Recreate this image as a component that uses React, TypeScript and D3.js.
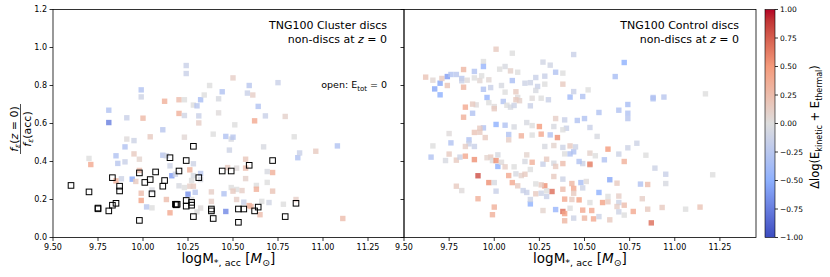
import React from 'react';
import * as d3 from 'd3';

// cluster discs, filled: [logM, ratio, dlogE]
const clusterFilled: [number, number, number][] = [
  [10.24, 0.905, -0.15], [10.24, 0.863, -0.15], [10.37, 0.80, 0.0], [10.5, 0.84, 0.12],
  [10.44, 0.767, -0.3], [10.59, 0.80, -0.25], [10.75, 0.815, -0.15], [9.99, 0.777, -0.3],
  [9.99, 0.74, -0.12], [9.81, 0.67, -0.3], [9.81, 0.605, -0.75], [9.91, 0.63, -0.15],
  [10.0, 0.628, 0.28], [10.12, 0.717, 0.35], [10.2, 0.725, 0.25], [10.2, 0.653, 0.35],
  [10.23, 0.725, 0.0], [10.23, 0.642, -0.1], [10.28, 0.697, 0.0], [10.3, 0.693, -0.25],
  [10.32, 0.725, -0.35], [10.34, 0.75, 0.0], [10.31, 0.64, -0.15], [10.31, 0.603, 0.12],
  [10.42, 0.73, -0.05], [10.42, 0.656, 0.02], [10.39, 0.544, 0.0], [10.58, 0.76, -0.15],
  [10.61, 0.75, 0.12], [10.64, 0.69, -0.3], [10.68, 0.64, -0.15], [10.62, 0.614, 0.4],
  [10.79, 0.637, 0.1], [10.51, 0.593, 0.0], [10.46, 0.532, -0.3], [10.49, 0.518, -0.05],
  [10.5, 0.528, -0.25], [10.11, 0.567, -0.25], [10.04, 0.53, 0.15], [10.23, 0.528, 0.05],
  [9.95, 0.51, -0.12], [9.91, 0.518, 0.02], [9.9, 0.477, -0.3], [9.7, 0.416, 0.0],
  [9.71, 0.384, 0.4], [9.85, 0.43, -0.3], [9.86, 0.39, -0.25], [9.9, 0.398, -0.15],
  [9.95, 0.44, 0.15], [9.98, 0.412, 0.08], [10.11, 0.433, -0.25], [10.13, 0.43, -0.12],
  [10.15, 0.377, -0.12], [10.16, 0.325, -0.6], [10.28, 0.388, -0.12], [10.48, 0.46, -0.12],
  [10.67, 0.477, -0.05], [10.84, 0.53, 0.0], [10.86, 0.42, -0.3], [10.87, 0.445, -0.15],
  [10.96, 0.454, 0.15], [11.08, 0.482, -0.3], [10.57, 0.412, 0.18], [10.57, 0.365, 0.25],
  [10.57, 0.31, 0.1], [10.72, 0.342, 0.35], [10.69, 0.347, -0.05], [10.69, 0.29, 0.0],
  [10.63, 0.274, 0.0], [10.63, 0.254, 0.35], [10.72, 0.244, 0.2], [10.47, 0.368, 0.15],
  [10.52, 0.365, 0.02], [10.49, 0.263, 0.0], [10.52, 0.253, 0.0], [10.5, 0.244, 0.15],
  [10.55, 0.247, 0.12], [10.52, 0.2, 0.12], [10.56, 0.186, -0.15], [10.59, 0.168, 0.35],
  [10.6, 0.163, 0.3], [10.65, 0.12, 0.25], [10.66, 0.19, 0.0], [10.7, 0.184, -0.1],
  [10.78, 0.175, 0.0], [10.85, 0.2, 0.12], [11.11, 0.10, 0.25], [10.45, 0.23, -0.3],
  [10.46, 0.137, -0.7], [10.38, 0.24, 0.12], [10.38, 0.19, 0.12], [10.32, 0.155, 0.02],
  [10.3, 0.135, 0.0], [10.29, 0.238, -0.25], [10.26, 0.356, 0.35], [10.28, 0.326, -0.05],
  [10.27, 0.30, 0.0], [10.28, 0.27, 0.15], [10.26, 0.27, 0.12], [10.23, 0.263, 0.0],
  [10.25, 0.228, -0.65], [10.27, 0.20, 0.0], [10.18, 0.333, -0.12], [10.13, 0.20, 0.25],
  [10.15, 0.13, 0.4], [10.2, 0.272, -0.05], [10.05, 0.156, 0.0], [10.02, 0.161, -0.25],
  [9.99, 0.195, 0.45], [9.99, 0.233, 0.25], [9.98, 0.353, 0.25], [9.94, 0.307, -0.55],
  [9.96, 0.295, 0.15], [9.85, 0.298, 0.35], [9.88, 0.309, -0.12], [10.05, 0.25, -0.05],
  [10.32, 0.305, -0.05], [10.32, 0.337, -0.25],
];

// cluster discs with E_tot = 0 (open squares): [logM, ratio]
const clusterOpen: [number, number][] = [
  [9.6, 0.274], [9.7, 0.24], [9.75, 0.155], [9.75, 0.151], [9.81, 0.14], [9.83, 0.17],
  [9.85, 0.18], [9.83, 0.315], [9.87, 0.27], [9.87, 0.245], [9.98, 0.09], [9.98, 0.34],
  [10.01, 0.29], [10.04, 0.305], [10.05, 0.23], [10.07, 0.345], [10.11, 0.27], [10.12, 0.30],
  [10.15, 0.42], [10.18, 0.175], [10.185, 0.172], [10.19, 0.175], [10.2, 0.35], [10.24, 0.195],
  [10.24, 0.405], [10.24, 0.165], [10.27, 0.185], [10.27, 0.17], [10.28, 0.48], [10.28, 0.11],
  [10.31, 0.315], [10.38, 0.15], [10.38, 0.14], [10.39, 0.10], [10.44, 0.35], [10.49, 0.35],
  [10.53, 0.15], [10.53, 0.08], [10.56, 0.15], [10.59, 0.38], [10.62, 0.14], [10.64, 0.16],
  [10.72, 0.405], [10.79, 0.11], [10.85, 0.18],
];

// control discs: [logM, ratio, dlogE]
const controlFilled: [number, number, number][] = [
  [10.01, 0.991, 0.15], [10.1, 0.97, 0.0], [9.94, 0.926, 0.0], [9.94, 0.90, -0.45],
  [9.89, 0.874, -0.3], [9.83, 0.884, 0.3], [10.06, 0.90, -0.05], [10.03, 0.886, 0.0],
  [10.09, 0.877, 0.1], [10.13, 0.87, 0.0], [10.27, 0.923, -0.1], [10.31, 0.907, -0.1],
  [10.34, 0.87, -0.3], [10.38, 0.865, 0.0], [10.44, 0.963, -0.15], [10.72, 0.921, -0.5],
  [10.67, 0.847, -0.35], [9.62, 0.844, 0.2], [9.66, 0.828, 0.05], [9.67, 0.782, -0.55],
  [9.7, 0.812, -0.55], [9.71, 0.837, 0.15], [9.74, 0.847, -0.6], [9.76, 0.858, -0.3],
  [9.79, 0.858, -0.25], [9.7, 0.751, -0.5], [9.74, 0.80, 0.2], [9.82, 0.837, -0.25],
  [9.82, 0.825, -0.15], [9.85, 0.828, 0.02], [9.83, 0.791, 0.3], [9.89, 0.84, 0.0],
  [9.92, 0.826, 0.05], [9.93, 0.851, 0.0], [9.97, 0.83, 0.05], [9.94, 0.78, -0.3],
  [9.96, 0.737, -0.45], [9.98, 0.789, -0.15], [10.04, 0.80, -0.05], [10.1, 0.826, -0.35],
  [10.06, 0.765, 0.0], [10.12, 0.767, 0.15], [10.13, 0.737, 0.02], [10.14, 0.72, 0.1],
  [10.12, 0.725, 0.15], [10.17, 0.812, -0.12], [10.2, 0.815, -0.12], [10.23, 0.842, -0.15],
  [10.28, 0.849, -0.15], [10.28, 0.807, 0.0], [10.24, 0.795, -0.15], [10.23, 0.774, -0.05],
  [10.3, 0.725, -0.15], [10.21, 0.733, 0.02], [10.26, 0.733, 0.0], [10.2, 0.693, -0.15],
  [10.38, 0.807, 0.15], [10.42, 0.739, -0.4], [10.49, 0.742, -0.3], [10.44, 0.768, -0.15],
  [10.52, 0.777, 0.0], [10.58, 0.658, -0.3], [10.69, 0.67, -0.3], [10.74, 0.70, -0.35],
  [10.74, 0.654, -0.3], [10.74, 0.626, -0.25], [10.88, 0.737, -0.3], [10.88, 0.73, -0.3],
  [10.94, 0.739, -0.25], [11.17, 0.756, 0.0], [9.84, 0.686, 0.4], [9.83, 0.633, 0.35],
  [9.88, 0.654, -0.3], [9.9, 0.698, 0.02], [9.88, 0.702, 0.15], [9.97, 0.71, 0.0],
  [10.0, 0.689, 0.02], [10.0, 0.678, 0.15], [10.05, 0.716, -0.3], [10.07, 0.696, 0.0],
  [10.09, 0.686, -0.05], [10.11, 0.695, -0.12], [10.01, 0.595, -0.5], [10.06, 0.591, -0.3],
  [10.11, 0.582, -0.05], [10.18, 0.605, -0.05], [10.21, 0.589, 0.0], [10.25, 0.584, 0.5],
  [10.34, 0.626, 0.12], [10.26, 0.544, 0.4], [10.31, 0.54, -0.3], [10.35, 0.526, 0.55],
  [10.33, 0.584, -0.05], [10.39, 0.619, -0.15], [10.4, 0.575, -0.15], [10.46, 0.616, -0.3],
  [10.5, 0.626, -0.3], [10.53, 0.579, -0.15], [10.38, 0.567, 0.0], [10.21, 0.539, 0.0],
  [10.15, 0.535, 0.35], [10.08, 0.542, -0.3], [10.08, 0.514, 0.12], [9.94, 0.577, -0.3],
  [9.92, 0.575, 0.15], [9.92, 0.554, 0.15], [9.89, 0.553, 0.2], [9.95, 0.526, 0.15],
  [9.86, 0.514, -0.3], [9.86, 0.493, -0.15], [9.89, 0.479, -0.15], [9.84, 0.479, 0.12],
  [9.75, 0.547, 0.02], [9.76, 0.498, -0.3], [9.66, 0.482, 0.0], [9.65, 0.423, -0.3],
  [9.75, 0.439, 0.15], [9.73, 0.405, -0.05], [9.79, 0.407, 0.15], [9.81, 0.423, -0.12],
  [9.84, 0.428, 0.4], [9.89, 0.41, 0.55], [9.82, 0.247, 0.02], [9.79, 0.27, 0.15],
  [9.91, 0.325, 0.82], [9.91, 0.204, 0.35], [9.97, 0.289, 0.55], [9.98, 0.423, 0.15],
  [9.96, 0.42, 0.08], [9.99, 0.405, 0.0], [10.01, 0.405, 0.55], [10.02, 0.435, -0.05],
  [10.02, 0.374, -0.5], [10.0, 0.289, -0.05], [10.01, 0.244, -0.15], [10.0, 0.16, 0.35],
  [9.99, 0.12, 0.35], [10.04, 0.396, 0.02], [10.06, 0.372, 0.12], [10.08, 0.326, 0.4],
  [10.1, 0.289, 0.4], [10.11, 0.372, 0.0], [10.12, 0.335, -0.05], [10.13, 0.272, 0.15],
  [10.15, 0.326, 0.1], [10.17, 0.333, 0.15], [10.16, 0.247, -0.15], [10.18, 0.237, -0.15],
  [10.18, 0.435, 0.08], [10.17, 0.40, -0.05], [10.2, 0.358, 0.0], [10.21, 0.396, 0.35],
  [10.2, 0.177, -0.5], [10.2, 0.20, -0.12], [10.23, 0.23, 0.15], [10.26, 0.233, -0.12],
  [10.28, 0.272, 0.55], [10.29, 0.216, -0.15], [10.32, 0.242, 0.7], [10.29, 0.246, 0.0],
  [10.26, 0.277, 0.15], [10.23, 0.282, 0.0], [10.27, 0.386, -0.15], [10.29, 0.412, 0.15],
  [10.28, 0.479, -0.05], [10.33, 0.484, 0.08], [10.33, 0.391, -0.05], [10.34, 0.374, 0.15],
  [10.33, 0.321, 0.15], [10.38, 0.389, 0.25], [10.38, 0.474, -0.12], [10.39, 0.44, 0.0],
  [10.42, 0.482, 0.15], [10.42, 0.44, -0.3], [10.44, 0.451, -0.3], [10.45, 0.477, -0.12],
  [10.38, 0.307, -0.12], [10.38, 0.254, 0.25], [10.39, 0.202, 0.4], [10.43, 0.284, 0.3],
  [10.44, 0.258, 0.4], [10.44, 0.233, 0.15], [10.47, 0.198, 0.45], [10.43, 0.20, 0.15],
  [10.38, 0.137, 0.7], [10.39, 0.126, 0.45], [10.39, 0.088, 0.3], [10.42, 0.154, 0.0],
  [10.44, 0.102, -0.12], [10.34, 0.147, -0.45], [10.27, 0.142, 0.08], [10.49, 0.144, 0.4],
  [10.5, 0.102, 0.3], [10.53, 0.184, 0.0], [10.54, 0.142, 0.4], [10.55, 0.098, 0.4],
  [10.48, 0.289, -0.35], [10.49, 0.261, -0.12], [10.51, 0.295, 0.02], [10.53, 0.382, 0.15],
  [10.53, 0.444, 0.1], [10.49, 0.389, -0.12], [10.47, 0.40, -0.3], [10.53, 0.386, 0.6],
  [10.56, 0.43, 0.0], [10.57, 0.532, -0.05], [10.58, 0.237, -0.5], [10.6, 0.184, 0.45],
  [10.63, 0.188, 0.15], [10.63, 0.216, 0.0], [10.58, 0.11, -0.12], [10.64, 0.093, 0.15],
  [10.63, 0.465, 0.5], [10.61, 0.409, -0.3], [10.64, 0.304, -0.55], [10.68, 0.286, 0.15],
  [10.69, 0.439, -0.12], [10.72, 0.40, 0.35], [10.74, 0.472, -0.12], [10.79, 0.496, -0.12],
  [10.69, 0.218, 0.12], [10.69, 0.184, -0.12], [10.68, 0.163, 0.12], [10.69, 0.135, -0.12],
  [10.72, 0.17, 0.25], [10.72, 0.118, 0.0], [10.77, 0.137, 0.4], [10.81, 0.281, -0.3],
  [10.82, 0.204, 0.12], [10.85, 0.149, 0.15], [10.87, 0.077, 0.7], [10.85, 0.279, 0.25],
  [10.93, 0.158, 0.15], [10.89, 0.365, -0.12], [10.95, 0.333, -0.15], [10.95, 0.284, -0.05],
  [11.06, 0.149, 0.0], [11.14, 0.16, 0.2], [11.21, 0.33, 0.0], [10.84, 0.433, 0.0],
];

const xTicks = [9.5, 9.75, 10.0, 10.25, 10.5, 10.75, 11.0, 11.25];
const yTicks = [0, 0.2, 0.4, 0.6, 0.8, 1.0, 1.2];
const cTicks = [-1, -0.75, -0.5, -0.25, 0, 0.25, 0.5, 0.75, 1];

// approximate matplotlib coolwarm
const coolwarm = d3.scaleLinear<string>()
  .domain([-1, -0.5, 0, 0.5, 1])
  .range(['#3b4cc0', '#8db0fe', '#dddddd', '#f49a7b', '#b40426'])
  .interpolate(d3.interpolateLab)
  .clamp(true);

const FONT = 'DejaVu Sans, sans-serif';
const top = 9.5, bottom = 237.5;
const panels = [
  { x0: 53, x1: 404, title: 'TNG100 Cluster discs', filled: clusterFilled, open: clusterOpen, labels: true },
  { x0: 404, x1: 756, title: 'TNG100 Control discs', filled: controlFilled, open: [] as [number, number][], labels: false },
];
const fmt = (v: number) => (v < 0 ? '\u2212' : '') + Math.abs(v).toFixed(2);

const Panel = ({ p }: { p: typeof panels[0] }) => {
  const x = d3.scaleLinear().domain([9.5, 11.45]).range([p.x0, p.x1]);
  const y = d3.scaleLinear().domain([0, 1.2]).range([bottom, top]);
  const s = 5.4;
  return (
    <g>
      {p.filled.map((d, i) => (
        <rect key={i} x={x(d[0]) - s / 2} y={y(d[1]) - s / 2} width={s} height={s}
          fill={coolwarm(d[2])} opacity={0.8} />
      ))}
      {p.open.map((d, i) => (
        <rect key={'o' + i} x={x(d[0]) - 2.8} y={y(d[1]) - 2.8} width={5.6} height={5.6}
          fill="none" stroke="#000" strokeWidth={1} />
      ))}
      <rect x={p.x0} y={top} width={p.x1 - p.x0} height={bottom - top} fill="none" stroke="#000" strokeWidth={0.8} />
      {xTicks.map(t => (
        <g key={t} transform={`translate(${x(t)},${bottom})`}>
          <line y2={3.5} stroke="#000" strokeWidth={0.8} />
          <text y={12} textAnchor="middle" fontSize={8} fontFamily={FONT}>{t.toFixed(2)}</text>
        </g>
      ))}
      {yTicks.map(t => (
        <g key={t} transform={`translate(${p.x0},${y(t)})`}>
          <line x2={-3.5} stroke="#000" strokeWidth={0.8} />
          {p.labels && <text x={-6} dy="0.35em" textAnchor="end" fontSize={8} fontFamily={FONT}>{t.toFixed(1)}</text>}
        </g>
      ))}
      <text x={(p.x0 + p.x1) / 2} y={263} textAnchor="middle" fontSize={13.5} fontFamily={FONT}>
        logM<tspan fontSize={9.5} dy={3}>*, acc</tspan><tspan dy={-3}> [</tspan><tspan fontStyle="italic">M</tspan><tspan fontSize={9.5} dy={3}>⊙</tspan><tspan dy={-3}>]</tspan>
      </text>
      <g fontFamily={FONT} fontSize={11} textAnchor="end">
        <text x={p.x1 - 17} y={29}>{p.title}</text>
        <text x={p.x1 - 17} y={43}>non-discs at <tspan fontStyle="italic">z</tspan> = 0</text>
        {p.labels && (
          <text x={p.x1 - 17} y={88} fontSize={9.5}>open: E<tspan fontSize={7} dy={2.5}>tot</tspan><tspan dy={-2.5}> = 0</tspan></text>
        )}
      </g>
    </g>
  );
};

const App = () => {
  const cy = d3.scaleLinear().domain([-1, 1]).range([bottom, top]);
  const stops = d3.range(0, 1.0001, 0.05);
  return (
    <svg width={830} height={277} style={{ position: 'absolute', left: 0, top: 0, background: '#fff' }}>
      <defs>
        <linearGradient id="cw" x1="0" y1="1" x2="0" y2="0">
          {stops.map(o => <stop key={o} offset={o} stopColor={coolwarm(-1 + 2 * o)} />)}
        </linearGradient>
      </defs>
      {panels.map(p => <Panel key={p.title} p={p} />)}
      {/* y label as fraction */}
      <g transform="translate(20.5,129) rotate(-90)" fontFamily={FONT} fontSize={11} textAnchor="middle">
        <text y={-3}><tspan fontStyle="italic">f</tspan><tspan fontStyle="italic" fontSize={7.5} dy={2}>ε</tspan><tspan dy={-2}>(</tspan><tspan fontStyle="italic">z</tspan> = 0)</text>
        <line x1={-25} x2={25} y1={0} y2={0} stroke="#000" strokeWidth={0.7} />
        <text y={10}><tspan fontStyle="italic">f</tspan><tspan fontStyle="italic" fontSize={7.5} dy={2}>ε</tspan><tspan dy={-2}>(acc)</tspan></text>
      </g>
      {/* colorbar */}
      <rect x={765} y={top} width={10} height={bottom - top} fill="url(#cw)" stroke="#000" strokeWidth={0.6} />
      {cTicks.map(t => (
        <g key={t} transform={`translate(775,${cy(t)})`}>
          <line x2={3} stroke="#000" strokeWidth={0.8} />
          <text x={5} dy="0.35em" fontSize={7.5} fontFamily={FONT}>{fmt(t)}</text>
        </g>
      ))}
      <text transform="translate(819,127) rotate(-90)" textAnchor="middle" fontSize={11.5} fontFamily={FONT}>
        Δlog(E<tspan fontSize={8} dy={3}>kinetic</tspan><tspan dy={-3}> + E</tspan><tspan fontSize={8} dy={3}>thermal</tspan><tspan dy={-3}>)</tspan>
      </text>
    </svg>
  );
};

export default App;
